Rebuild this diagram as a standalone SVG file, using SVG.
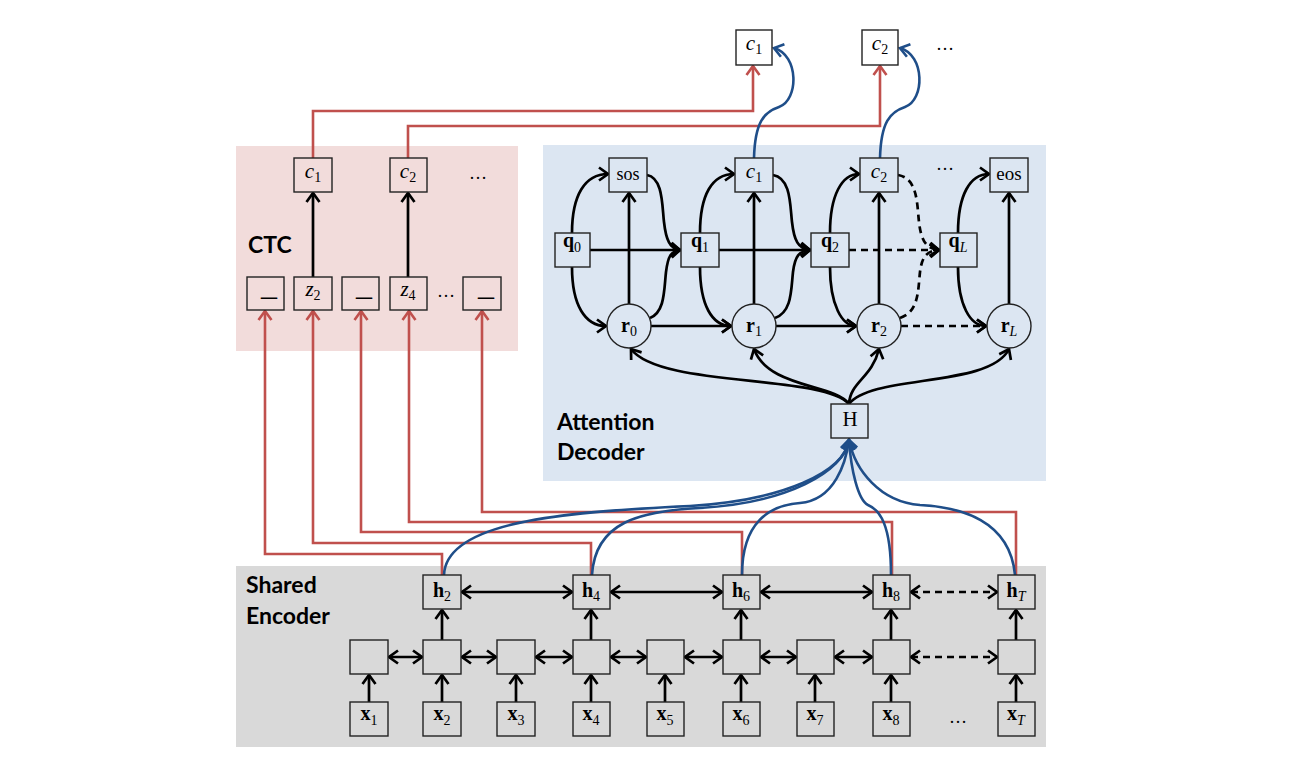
<svg xmlns="http://www.w3.org/2000/svg" width="1292" height="766" viewBox="0 0 1292 766">
<style>
.m{font-family:"Liberation Serif","DejaVu Serif",serif;font-size:20px;fill:#000}
.sub{font-size:14px}
.b{font-weight:bold}
.i{font-style:italic}
.ci{font-style:italic;font-size:21px}
.lbl{font-family:Lato,"Open Sans","Liberation Sans",sans-serif;font-weight:bold;font-size:23px;fill:#000}
.box{stroke:#222;stroke-width:1.4}
.k{fill:none;stroke:#000;stroke-width:2.7}
.kd{fill:none;stroke:#000;stroke-width:2.7;stroke-dasharray:7 5}
.red{fill:none;stroke:#C0504D;stroke-width:2.6}
.blue{fill:none;stroke:#1F4E89;stroke-width:2.6}
.dots{font-family:"Liberation Serif",serif;font-size:18px;fill:#000}
</style>
<defs>
<marker id="ak" viewBox="-12 -8 14 16" markerWidth="14" markerHeight="16" refX="0" refY="0" orient="auto-start-reverse" markerUnits="userSpaceOnUse"><path d="M-9,-6.5 L0,0 L-9,6.5" fill="none" stroke="#000" stroke-width="2.7"/></marker>
<marker id="ar" viewBox="-12 -8 14 16" markerWidth="14" markerHeight="16" refX="0" refY="0" orient="auto" markerUnits="userSpaceOnUse"><path d="M-9,-6.5 L0,0 L-9,6.5" fill="none" stroke="#C0504D" stroke-width="2.6"/></marker>
<marker id="ab" viewBox="-12 -8 14 16" markerWidth="14" markerHeight="16" refX="0" refY="0" orient="auto" markerUnits="userSpaceOnUse"><path d="M-9,-6.5 L0,0 L-9,6.5" fill="none" stroke="#1F4E89" stroke-width="2.6"/></marker>
</defs>
<rect width="1292" height="766" fill="#fff"/>
<g id="panels">
<rect x="236" y="146" width="282" height="205" fill="#F2DCDB"/>
<rect x="543" y="145" width="503" height="336" fill="#DCE6F2"/>
<rect x="236" y="566" width="810" height="181" fill="#D9D9D9"/>
<text class="lbl" x="248" y="253">CTC</text>
<text class="lbl" x="557" y="430">Attention</text>
<text class="lbl" x="557" y="460">Decoder</text>
<text class="lbl" x="246" y="593">Shared</text>
<text class="lbl" x="246" y="624">Encoder</text>
</g>
<g id="connectors">
<path class="red" d="M313,158 V111 H753 V66" marker-end="url(#ar)"/>
<path class="red" d="M408,158 V126 H880 V66" marker-end="url(#ar)"/>
<path class="red" d="M442,575 V554 H265 V311" marker-end="url(#ar)"/>
<path class="red" d="M591,575 V543 H313 V311" marker-end="url(#ar)"/>
<path class="red" d="M742,575 V532 H361 V311" marker-end="url(#ar)"/>
<path class="red" d="M892,575 V522 H409 V311" marker-end="url(#ar)"/>
<path class="red" d="M1016,575 V512 H482 V311" marker-end="url(#ar)"/>
<path class="blue" d="M754,158 C755,122 764,112 779,107 C799,100 799,55 774,48" marker-end="url(#ab)"/>
<path class="blue" d="M880,158 C881,122 890,112 905,107 C925,100 925,55 900,48" marker-end="url(#ab)"/>
<path class="blue" d="M444,575 C446,522 560,512 690,506 C785,500 844,472 849,440" marker-end="url(#ab)"/>
<path class="blue" d="M592,575 C595,522 640,511 700,508 C787,503 844,472 849,440" marker-end="url(#ab)"/>
<path class="blue" d="M742,575 C742,522 770,505 800,503 C835,500 846,462 849,440" marker-end="url(#ab)"/>
<path class="blue" d="M891,575 C891,525 880,510 868,505 C858,500 851,470 849,440" marker-end="url(#ab)"/>
<path class="blue" d="M1015,575 C1010,520 960,507 920,505 C880,502 855,470 849,440" marker-end="url(#ab)"/>
<line class="k" x1="313" y1="277" x2="313" y2="193" marker-end="url(#ak)"/>
<line class="k" x1="408" y1="277" x2="408" y2="193" marker-end="url(#ak)"/>
<path class="k" d="M572,233 C572,195 585,174 608,174" marker-end="url(#ak)"/>
<path class="k" d="M572,267 C572,305 585,326 606,326" marker-end="url(#ak)"/>
<path class="k" d="M700,233 C700,195 712,174 734,174" marker-end="url(#ak)"/>
<path class="k" d="M700,267 C700,305 712,326 731,326" marker-end="url(#ak)"/>
<path class="k" d="M830,233 C830,195 842,174 859,174" marker-end="url(#ak)"/>
<path class="k" d="M830,267 C830,305 842,326 856,326" marker-end="url(#ak)"/>
<path class="k" d="M958,233 C958,195 970,174 989,174" marker-end="url(#ak)"/>
<path class="k" d="M958,267 C958,305 970,326 986,326" marker-end="url(#ak)"/>
<line class="k" x1="590" y1="250" x2="680" y2="250" marker-end="url(#ak)"/>
<line class="k" x1="719" y1="250" x2="810" y2="250" marker-end="url(#ak)"/>
<line class="kd" x1="849" y1="250" x2="939" y2="250" marker-end="url(#ak)"/>
<path class="k" d="M647,175 C663,178 662,205 664,222 C666,240 670,249 680,250" marker-end="url(#ak)"/>
<path class="k" d="M773,175 C791,178 790,205 792,222 C794,240 798,249 810,250" marker-end="url(#ak)"/>
<path class="kd" d="M898,175 C918,178 917,205 919,222 C921,240 926,249 939,250" marker-end="url(#ak)"/>
<path class="k" d="M650,318 C665,312 664,290 666,272 C668,256 671,251 680,250" marker-end="url(#ak)"/>
<path class="k" d="M775,318 C792,312 791,290 793,272 C795,256 799,251 810,250" marker-end="url(#ak)"/>
<path class="kd" d="M900,318 C919,312 918,290 920,272 C922,256 927,251 939,250" marker-end="url(#ak)"/>
<line class="k" x1="629" y1="304" x2="629" y2="193" marker-end="url(#ak)"/>
<line class="k" x1="754" y1="304" x2="754" y2="193" marker-end="url(#ak)"/>
<line class="k" x1="879" y1="304" x2="879" y2="193" marker-end="url(#ak)"/>
<line class="k" x1="1009" y1="304" x2="1009" y2="193" marker-end="url(#ak)"/>
<line class="k" x1="651" y1="326" x2="731" y2="326" marker-end="url(#ak)"/>
<line class="k" x1="776" y1="326" x2="856" y2="326" marker-end="url(#ak)"/>
<line class="kd" x1="901" y1="326" x2="986" y2="326" marker-end="url(#ak)"/>
<path class="k" d="M849,404 C822,374 660,388 631,349" marker-end="url(#ak)"/>
<path class="k" d="M849,404 C835,384 768,388 754,349" marker-end="url(#ak)"/>
<path class="k" d="M849,404 C850,382 872,378 879,349" marker-end="url(#ak)"/>
<path class="k" d="M849,404 C872,374 990,388 1009,349" marker-end="url(#ak)"/>
<line class="k" x1="369" y1="702" x2="369" y2="675" marker-end="url(#ak)"/>
<line class="k" x1="442" y1="702" x2="442" y2="675" marker-end="url(#ak)"/>
<line class="k" x1="516" y1="702" x2="516" y2="675" marker-end="url(#ak)"/>
<line class="k" x1="591" y1="702" x2="591" y2="675" marker-end="url(#ak)"/>
<line class="k" x1="665" y1="702" x2="665" y2="675" marker-end="url(#ak)"/>
<line class="k" x1="741" y1="702" x2="741" y2="675" marker-end="url(#ak)"/>
<line class="k" x1="815" y1="702" x2="815" y2="675" marker-end="url(#ak)"/>
<line class="k" x1="891" y1="702" x2="891" y2="675" marker-end="url(#ak)"/>
<line class="k" x1="1016" y1="702" x2="1016" y2="675" marker-end="url(#ak)"/>
<line class="k" x1="442" y1="640" x2="442" y2="610" marker-end="url(#ak)"/>
<line class="k" x1="591" y1="640" x2="591" y2="610" marker-end="url(#ak)"/>
<line class="k" x1="741" y1="640" x2="741" y2="610" marker-end="url(#ak)"/>
<line class="k" x1="891" y1="640" x2="891" y2="610" marker-end="url(#ak)"/>
<line class="k" x1="1016" y1="640" x2="1016" y2="610" marker-end="url(#ak)"/>
<line class="k" x1="389" y1="657" x2="422" y2="657" marker-start="url(#ak)" marker-end="url(#ak)"/>
<line class="k" x1="462" y1="657" x2="496" y2="657" marker-start="url(#ak)" marker-end="url(#ak)"/>
<line class="k" x1="536" y1="657" x2="572" y2="657" marker-start="url(#ak)" marker-end="url(#ak)"/>
<line class="k" x1="611" y1="657" x2="646" y2="657" marker-start="url(#ak)" marker-end="url(#ak)"/>
<line class="k" x1="685" y1="657" x2="722" y2="657" marker-start="url(#ak)" marker-end="url(#ak)"/>
<line class="k" x1="761" y1="657" x2="796" y2="657" marker-start="url(#ak)" marker-end="url(#ak)"/>
<line class="k" x1="835" y1="657" x2="872" y2="657" marker-start="url(#ak)" marker-end="url(#ak)"/>
<line class="kd" x1="911" y1="657" x2="997" y2="657" marker-start="url(#ak)" marker-end="url(#ak)"/>
<line class="k" x1="462" y1="592" x2="572" y2="592" marker-start="url(#ak)" marker-end="url(#ak)"/>
<line class="k" x1="611" y1="592" x2="722" y2="592" marker-start="url(#ak)" marker-end="url(#ak)"/>
<line class="k" x1="761" y1="592" x2="872" y2="592" marker-start="url(#ak)" marker-end="url(#ak)"/>
<line class="kd" x1="911" y1="592" x2="997" y2="592" marker-start="url(#ak)" marker-end="url(#ak)"/>
</g>
<g id="out-c1"><rect class="box" x="736" y="30" width="36" height="35" fill="#fff"/><text class="m" x="754" y="50" text-anchor="middle"><tspan class="ci">c</tspan><tspan class="sub" dy="4">1</tspan></text></g>
<g id="out-c2"><rect class="box" x="862" y="30" width="36" height="35" fill="#fff"/><text class="m" x="880" y="50" text-anchor="middle"><tspan class="ci">c</tspan><tspan class="sub" dy="4">2</tspan></text></g>
<text class="dots" x="945" y="50" text-anchor="middle">…</text>
<g id="ctc-c1"><rect class="box" x="294" y="158" width="38" height="34" fill="#F2DCDB"/><text class="m" x="313" y="178" text-anchor="middle"><tspan class="ci">c</tspan><tspan class="sub" dy="4">1</tspan></text></g>
<g id="ctc-c2"><rect class="box" x="390" y="158" width="37" height="34" fill="#F2DCDB"/><text class="m" x="408" y="178" text-anchor="middle"><tspan class="ci">c</tspan><tspan class="sub" dy="4">2</tspan></text></g>
<text class="dots" x="478" y="179" text-anchor="middle">…</text>
<g id="ctc-b1"><rect class="box" x="247" y="277" width="37" height="33" fill="#F2DCDB"/><text class="m" x="269" y="295" text-anchor="middle" style="font-size:32px">_</text></g>
<g id="ctc-z2"><rect class="box" x="294" y="277" width="38" height="33" fill="#F2DCDB"/><text class="m" x="313" y="296" text-anchor="middle"><tspan class="ci">z</tspan><tspan class="sub" dy="4">2</tspan></text></g>
<g id="ctc-b2"><rect class="box" x="342" y="277" width="37" height="33" fill="#F2DCDB"/><text class="m" x="364" y="295" text-anchor="middle" style="font-size:32px">_</text></g>
<g id="ctc-z4"><rect class="box" x="390" y="277" width="37" height="33" fill="#F2DCDB"/><text class="m" x="408" y="296" text-anchor="middle"><tspan class="ci">z</tspan><tspan class="sub" dy="4">4</tspan></text></g>
<text class="dots" x="446" y="297" text-anchor="middle">…</text>
<g id="ctc-b3"><rect class="box" x="463" y="277" width="38" height="33" fill="#F2DCDB"/><text class="m" x="486" y="295" text-anchor="middle" style="font-size:32px">_</text></g>
<g id="sos"><rect class="box" x="609" y="158" width="38" height="34" fill="#DCE6F2"/><text class="m" x="628" y="180" text-anchor="middle" style="font-size:18px">sos</text></g>
<g id="att-c1"><rect class="box" x="735" y="158" width="38" height="34" fill="#DCE6F2"/><text class="m" x="754" y="178" text-anchor="middle"><tspan class="ci">c</tspan><tspan class="sub" dy="4">1</tspan></text></g>
<g id="att-c2"><rect class="box" x="860" y="158" width="38" height="34" fill="#DCE6F2"/><text class="m" x="879" y="178" text-anchor="middle"><tspan class="ci">c</tspan><tspan class="sub" dy="4">2</tspan></text></g>
<text class="dots" x="945" y="170" text-anchor="middle">…</text>
<g id="eos"><rect class="box" x="990" y="158" width="38" height="34" fill="#DCE6F2"/><text class="m" x="1009" y="180" text-anchor="middle" style="font-size:19px">eos</text></g>
<g id="q0"><rect class="box" x="555" y="233" width="35" height="34" fill="#DCE6F2"/><text class="m" x="572" y="247" text-anchor="middle"><tspan class="b">q</tspan><tspan class="sub" dy="5">0</tspan></text></g>
<g id="q1"><rect class="box" x="681" y="233" width="38" height="34" fill="#DCE6F2"/><text class="m" x="700" y="247" text-anchor="middle"><tspan class="b">q</tspan><tspan class="sub" dy="5">1</tspan></text></g>
<g id="q2"><rect class="box" x="811" y="233" width="38" height="34" fill="#DCE6F2"/><text class="m" x="830" y="247" text-anchor="middle"><tspan class="b">q</tspan><tspan class="sub" dy="5">2</tspan></text></g>
<g id="qL"><rect class="box" x="940" y="233" width="37" height="34" fill="#DCE6F2"/><text class="m" x="958" y="247" text-anchor="middle"><tspan class="b">q</tspan><tspan class="sub i" dy="5">L</tspan></text></g>
<g id="r0"><circle class="box" cx="629" cy="326" r="22" fill="#DCE6F2"/><text class="m" x="629" y="332" text-anchor="middle"><tspan class="b">r</tspan><tspan class="sub" dy="4">0</tspan></text></g>
<g id="r1"><circle class="box" cx="754" cy="326" r="22" fill="#DCE6F2"/><text class="m" x="754" y="332" text-anchor="middle"><tspan class="b">r</tspan><tspan class="sub" dy="4">1</tspan></text></g>
<g id="r2"><circle class="box" cx="879" cy="326" r="22" fill="#DCE6F2"/><text class="m" x="879" y="332" text-anchor="middle"><tspan class="b">r</tspan><tspan class="sub" dy="4">2</tspan></text></g>
<g id="rL"><circle class="box" cx="1009" cy="326" r="22" fill="#DCE6F2"/><text class="m" x="1009" y="332" text-anchor="middle"><tspan class="b">r</tspan><tspan class="sub i" dy="4">L</tspan></text></g>
<g id="H"><rect class="box" x="831" y="404" width="37" height="34" fill="#DCE6F2"/><text class="m" x="850" y="426" text-anchor="middle" style="font-size:21px">H</text></g>
<g id="h2"><rect class="box" x="423" y="575" width="38" height="34" fill="#D9D9D9"/><text class="m" x="442" y="597" text-anchor="middle"><tspan class="b">h</tspan><tspan class="sub" dy="4">2</tspan></text></g>
<g id="h4"><rect class="box" x="573" y="575" width="37" height="34" fill="#D9D9D9"/><text class="m" x="591" y="597" text-anchor="middle"><tspan class="b">h</tspan><tspan class="sub" dy="4">4</tspan></text></g>
<g id="h6"><rect class="box" x="723" y="575" width="37" height="34" fill="#D9D9D9"/><text class="m" x="741" y="597" text-anchor="middle"><tspan class="b">h</tspan><tspan class="sub" dy="4">6</tspan></text></g>
<g id="h8"><rect class="box" x="873" y="575" width="37" height="34" fill="#D9D9D9"/><text class="m" x="891" y="597" text-anchor="middle"><tspan class="b">h</tspan><tspan class="sub" dy="4">8</tspan></text></g>
<g id="hT"><rect class="box" x="998" y="575" width="37" height="34" fill="#D9D9D9"/><text class="m" x="1016" y="597" text-anchor="middle"><tspan class="b">h</tspan><tspan class="sub i" dy="4">T</tspan></text></g>
<g id="e1"><rect class="box" x="350" y="640" width="38" height="34" fill="#D9D9D9"/></g>
<g id="e2"><rect class="box" x="423" y="640" width="38" height="34" fill="#D9D9D9"/></g>
<g id="e3"><rect class="box" x="497" y="640" width="38" height="34" fill="#D9D9D9"/></g>
<g id="e4"><rect class="box" x="573" y="640" width="37" height="34" fill="#D9D9D9"/></g>
<g id="e5"><rect class="box" x="647" y="640" width="37" height="34" fill="#D9D9D9"/></g>
<g id="e6"><rect class="box" x="723" y="640" width="37" height="34" fill="#D9D9D9"/></g>
<g id="e7"><rect class="box" x="797" y="640" width="37" height="34" fill="#D9D9D9"/></g>
<g id="e8"><rect class="box" x="873" y="640" width="37" height="34" fill="#D9D9D9"/></g>
<g id="eT"><rect class="box" x="998" y="640" width="37" height="34" fill="#D9D9D9"/></g>
<g id="x1"><rect class="box" x="350" y="702" width="38" height="34" fill="#D9D9D9"/><text class="m" x="369" y="720" text-anchor="middle"><tspan class="b">x</tspan><tspan class="sub" dy="5">1</tspan></text></g>
<g id="x2"><rect class="box" x="423" y="702" width="38" height="34" fill="#D9D9D9"/><text class="m" x="442" y="720" text-anchor="middle"><tspan class="b">x</tspan><tspan class="sub" dy="5">2</tspan></text></g>
<g id="x3"><rect class="box" x="497" y="702" width="38" height="34" fill="#D9D9D9"/><text class="m" x="516" y="720" text-anchor="middle"><tspan class="b">x</tspan><tspan class="sub" dy="5">3</tspan></text></g>
<g id="x4"><rect class="box" x="573" y="702" width="37" height="34" fill="#D9D9D9"/><text class="m" x="591" y="720" text-anchor="middle"><tspan class="b">x</tspan><tspan class="sub" dy="5">4</tspan></text></g>
<g id="x5"><rect class="box" x="647" y="702" width="37" height="34" fill="#D9D9D9"/><text class="m" x="665" y="720" text-anchor="middle"><tspan class="b">x</tspan><tspan class="sub" dy="5">5</tspan></text></g>
<g id="x6"><rect class="box" x="723" y="702" width="37" height="34" fill="#D9D9D9"/><text class="m" x="741" y="720" text-anchor="middle"><tspan class="b">x</tspan><tspan class="sub" dy="5">6</tspan></text></g>
<g id="x7"><rect class="box" x="797" y="702" width="37" height="34" fill="#D9D9D9"/><text class="m" x="815" y="720" text-anchor="middle"><tspan class="b">x</tspan><tspan class="sub" dy="5">7</tspan></text></g>
<g id="x8"><rect class="box" x="873" y="702" width="37" height="34" fill="#D9D9D9"/><text class="m" x="891" y="720" text-anchor="middle"><tspan class="b">x</tspan><tspan class="sub" dy="5">8</tspan></text></g>
<text class="dots" x="958" y="723" text-anchor="middle">…</text>
<g id="xT"><rect class="box" x="998" y="702" width="37" height="34" fill="#D9D9D9"/><text class="m" x="1016" y="720" text-anchor="middle"><tspan class="b">x</tspan><tspan class="sub i" dy="5">T</tspan></text></g>
</svg>
